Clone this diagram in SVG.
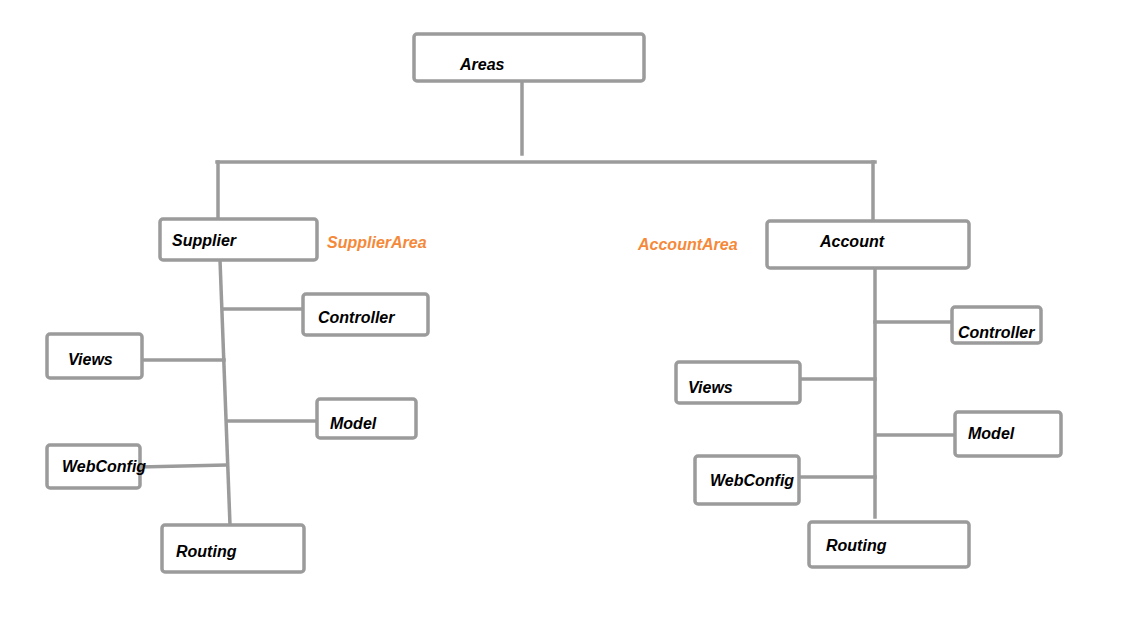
<svg xmlns="http://www.w3.org/2000/svg" width="1124" height="618" viewBox="0 0 1124 618">
<style>
.box{fill:#fff;stroke:#9b9b9b;stroke-width:3.5}
.ln{fill:none;stroke:#9b9b9b;stroke-width:3.5;stroke-linecap:square}
.t{font-family:"Liberation Sans",Arial,sans-serif;font-size:16px;font-weight:bold;font-style:italic;fill:#000}
.o{font-family:"Liberation Sans",Arial,sans-serif;font-size:16px;font-weight:bold;font-style:italic;fill:#f5893a}
</style>
<rect width="1124" height="618" fill="#fff"/>
<g id="connectors">
<path class="ln" d="M522,81 L522,154"/>
<path class="ln" d="M217,162 L875,162"/>
<path class="ln" d="M218,162 L218,218"/>
<path class="ln" d="M873,162 L873,220"/>
<path class="ln" d="M220,260 L230,525"/>
<path class="ln" d="M223,309 L303,309"/>
<path class="ln" d="M142,360 L224,360"/>
<path class="ln" d="M228,421 L317,421"/>
<path class="ln" d="M140,467 L225,465"/>
<path class="ln" d="M875,268 L875,517"/>
<path class="ln" d="M875,322 L952,322"/>
<path class="ln" d="M800,379 L875,379"/>
<path class="ln" d="M876,435 L955,435"/>
<path class="ln" d="M799,477 L875,477"/>
</g>
<g id="areas"><rect class="box" x="414" y="34" width="230" height="47" rx="3"/><text class="t" x="460" y="70">Areas</text></g>
<g id="supplier"><rect class="box" x="160" y="219" width="157" height="41" rx="3"/><text class="t" x="172" y="246">Supplier</text></g>
<g id="supplierArea"><text class="o" x="327" y="248">SupplierArea</text></g>
<g id="s-controller"><rect class="box" x="303" y="294" width="125" height="41" rx="3"/><text class="t" x="318" y="323">Controller</text></g>
<g id="s-views"><rect class="box" x="47" y="334" width="95" height="44" rx="3"/><text class="t" x="68" y="365">Views</text></g>
<g id="s-model"><rect class="box" x="317" y="399" width="99" height="39" rx="3"/><text class="t" x="330" y="429">Model</text></g>
<g id="s-webconfig"><rect class="box" x="47" y="445" width="93" height="43" rx="3"/><text class="t" x="62" y="472">WebConfig</text></g>
<g id="s-routing"><rect class="box" x="162" y="525" width="142" height="47" rx="3"/><text class="t" x="176" y="557">Routing</text></g>
<g id="accountArea"><text class="o" x="638" y="250">AccountArea</text></g>
<g id="account"><rect class="box" x="767" y="221" width="202" height="47" rx="3"/><text class="t" x="820" y="247">Account</text></g>
<g id="a-controller"><rect class="box" x="952" y="307" width="89" height="36" rx="3"/><text class="t" x="958" y="338">Controller</text></g>
<g id="a-views"><rect class="box" x="676" y="362" width="124" height="41" rx="3"/><text class="t" x="688" y="393">Views</text></g>
<g id="a-model"><rect class="box" x="955" y="412" width="106" height="44" rx="3"/><text class="t" x="968" y="439">Model</text></g>
<g id="a-webconfig"><rect class="box" x="695" y="456" width="104" height="48" rx="3"/><text class="t" x="710" y="486">WebConfig</text></g>
<g id="a-routing"><rect class="box" x="809" y="522" width="160" height="45" rx="3"/><text class="t" x="826" y="551">Routing</text></g>
</svg>
